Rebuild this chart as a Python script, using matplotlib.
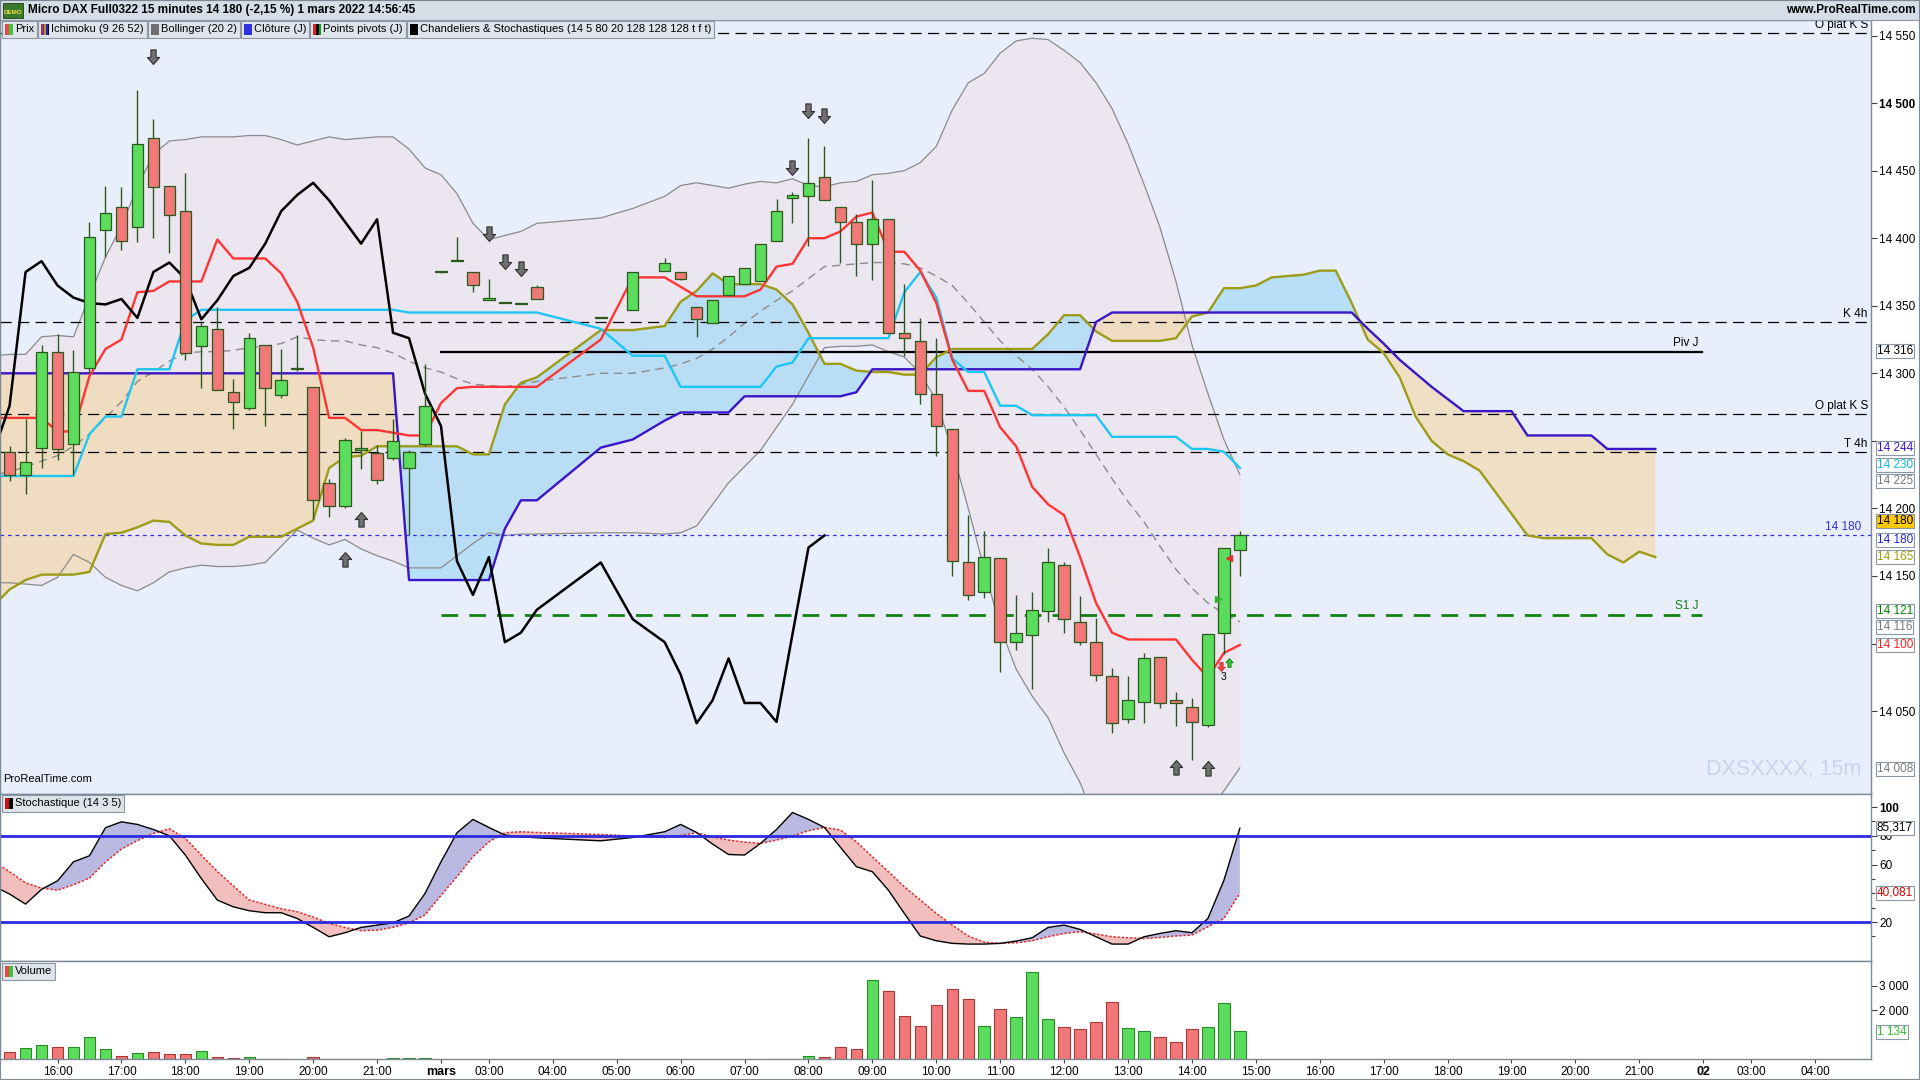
import numpy as np
import matplotlib
matplotlib.use("Agg")
import matplotlib.pyplot as plt
from matplotlib.patches import Rectangle
from matplotlib.path import Path
from matplotlib.markers import MarkerStyle

plt.rcParams['font.family'] = ['Liberation Sans', 'DejaVu Sans']

# 15-minute slots, 0 = 16:00 on 28 Feb. Slots 31-33, 35 and 37 have no trade.
# Slot -4 sits just left of the visible window.
bar_pos = list(range(-4, 31)) + [34, 36] + list(range(38, 75))
future_pos = list(range(75, 101))

opens = [14238,
         14242, 14225, 14245, 14316, 14248, 14304, 14406, 14423, 14408, 14474,
         14439, 14420, 14320, 14333, 14286, 14274, 14321, 14284, 14304, 14290,
         14219, 14202, 14243, 14241, 14237, 14230, 14248, 14375, 14383, 14375,
         14354, 14353, 14351, 14364, 14341, 14347, 14376, 14375, 14349, 14337,
         14358, 14366, 14368, 14398, 14430, 14431, 14445, 14423, 14412, 14396,
         14414, 14330, 14324, 14285, 14259, 14160, 14138, 14163, 14101, 14106,
         14124, 14158, 14116, 14101, 14076, 14044, 14057, 14090, 14058, 14053,
         14040, 14108, 14169]
highs = [14250,
         14246, 14266, 14321, 14329, 14317, 14412, 14439, 14438, 14510, 14488,
         14439, 14448, 14338, 14349, 14296, 14330, 14321, 14318, 14328, 14290,
         14222, 14252, 14257, 14247, 14266, 14243, 14307, 14376, 14401, 14375,
         14370, 14353, 14351, 14365, 14341, 14375, 14385, 14375, 14349, 14354,
         14372, 14378, 14396, 14429, 14434, 14474, 14468, 14423, 14418, 14443,
         14414, 14366, 14341, 14326, 14259, 14195, 14183, 14163, 14136, 14138,
         14171, 14160, 14135, 14119, 14082, 14076, 14093, 14090, 14064, 14060,
         14107, 14171, 14183]
lows = [14228,
        14220, 14211, 14230, 14236, 14225, 14300, 14386, 14391, 14397, 14400,
        14389, 14310, 14289, 14288, 14259, 14273, 14261, 14282, 14302, 14192,
        14194, 14200, 14229, 14218, 14236, 14180, 14246, 14374, 14383, 14360,
        14354, 14352, 14351, 14355, 14341, 14347, 14376, 14369, 14327, 14337,
        14358, 14366, 14368, 14398, 14411, 14394, 14428, 14382, 14372, 14369,
        14330, 14313, 14277, 14239, 14150, 14132, 14134, 14079, 14095, 14066,
        14116, 14108, 14099, 14072, 14034, 14041, 14041, 14052, 14039, 14014,
        14038, 14092, 14150]
closes = [14232,
          14225, 14234, 14316, 14244, 14301, 14401, 14419, 14398, 14470, 14438,
          14417, 14315, 14335, 14288, 14279, 14326, 14289, 14295, 14303, 14206,
          14202, 14251, 14245, 14221, 14250, 14242, 14276, 14375, 14383, 14365,
          14356, 14352, 14351, 14355, 14341, 14375, 14382, 14370, 14340, 14354,
          14372, 14378, 14396, 14420, 14432, 14441, 14428, 14412, 14396, 14414,
          14330, 14326, 14285, 14261, 14161, 14136, 14164, 14101, 14108, 14125,
          14160, 14118, 14101, 14077, 14041, 14058, 14089, 14056, 14056, 14042,
          14107, 14171, 14180]
volumes = [300,
           280, 440, 565, 483, 483, 890, 400, 116, 238, 279,
           197, 197, 320, 88, 48, 75, 20, 20, 0, 75,
           15, 15, 15, 15, 35, 35, 40, 0, 0, 0,
           0, 0, 0, 0, 0, 0, 0, 0, 0, 0,
           0, 0, 0, 20, 20, 130, 75, 485, 405, 3232,
           2770, 1749, 1341, 2198, 2865, 2443, 1341, 2035, 1708, 3545,
           1626, 1327, 1218, 1518, 2320, 1259, 1136, 919, 687, 1218,
           1300, 2280, 1134]

# Ichimoku
tenkan = [14267,
          14267, 14267, 14267, 14257, 14257, 14298, 14318, 14325, 14360, 14361,
          14368, 14368, 14368, 14399, 14385, 14385, 14385, 14374, 14353, 14319,
          14267, 14267, 14258, 14258, 14256, 14254, 14254, 14278, 14289, 14290,
          14290, 14290, 14290, 14290, 14325, 14371, 14371, 14364, 14357, 14357,
          14357, 14357, 14362, 14379, 14381, 14400, 14400, 14405, 14416, 14419,
          14390, 14390, 14376, 14352, 14310, 14287, 14287, 14260, 14246, 14216,
          14203, 14195, 14164, 14130, 14108, 14103, 14103, 14103, 14103, 14088,
          14075, 14093, 14099]
kijun = [14224,
         14224, 14224, 14224, 14224, 14224, 14255, 14268, 14268, 14303, 14303,
         14303, 14339, 14347, 14347, 14347, 14347, 14347, 14347, 14347, 14347,
         14347, 14347, 14347, 14347, 14347, 14345, 14345, 14345, 14345, 14345,
         14345, 14345, 14345, 14345, 14333, 14313, 14313, 14290, 14290, 14290,
         14290, 14290, 14290, 14305, 14308, 14326, 14326, 14326, 14326, 14326,
         14326, 14360, 14375, 14356, 14311, 14301, 14301, 14276, 14276, 14269,
         14269, 14269, 14269, 14269, 14253, 14253, 14253, 14253, 14253, 14244,
         14244, 14242, 14230]
senkou_a = [14128,
            14140, 14147, 14151, 14151, 14151, 14153, 14181, 14182, 14186, 14191,
            14190, 14180, 14174, 14173, 14173, 14179, 14179, 14179, 14185, 14191,
            14230, 14238, 14239, 14246, 14246, 14246, 14246, 14246, 14246, 14240,
            14240, 14277, 14293, 14297, 14332, 14332, 14335, 14353, 14361, 14374,
            14366, 14366, 14366, 14362, 14351, 14330, 14307, 14307, 14302, 14301,
            14301, 14299, 14299, 14312, 14318, 14318, 14318, 14318, 14318, 14318,
            14329, 14343, 14343, 14331, 14324, 14324, 14324, 14324, 14326, 14342,
            14345, 14363, 14363,
            14365, 14371, 14372, 14373, 14376, 14376, 14352, 14325, 14315, 14297,
            14268, 14250, 14240, 14235, 14228, 14212, 14196, 14180, 14178, 14178,
            14178, 14178, 14166, 14160, 14168, 14164]
senkou_b = [14300] * 26 + [14147] * 5 + \
           [14147, 14185, 14206, 14206, 14245, 14251, 14265, 14271, 14271, 14271,
            14271, 14283, 14283, 14283, 14283, 14283, 14283, 14283, 14286, 14303,
            14303, 14303, 14303, 14303, 14303, 14303, 14303, 14303, 14303, 14303,
            14303, 14303, 14303, 14338, 14345, 14345, 14345, 14345, 14345, 14345,
            14345, 14345, 14345,
            14345, 14345, 14345, 14345, 14345, 14345, 14345, 14333, 14322, 14310,
            14300, 14290, 14281, 14272, 14272, 14272, 14272, 14254, 14254, 14254,
            14254, 14254, 14244, 14244, 14244, 14244]
# lagging line (drawn on the first 48 slots)
chikou = [14242,
          14276, 14375, 14383, 14365, 14356, 14352, 14351, 14355, 14341, 14375,
          14382, 14370, 14340, 14354, 14372, 14378, 14396, 14420, 14432, 14441,
          14428, 14412, 14396, 14414, 14330, 14326, 14285, 14261, 14161, 14136,
          14164, 14101, 14108, 14125, 14160, 14118, 14101, 14077, 14041, 14058,
          14089, 14056, 14056, 14042, 14107, 14171, 14180]

# Bollinger (20 2)
bb_upper = [14313,
            14314, 14314, 14327, 14328, 14327, 14357, 14386, 14409, 14438, 14462,
            14472, 14473, 14475, 14475, 14475, 14476, 14476, 14473, 14469, 14472,
            14475, 14473, 14474, 14475, 14475, 14466, 14452, 14447, 14433, 14411,
            14399, 14402, 14405, 14411, 14415, 14422, 14431, 14439, 14441, 14439,
            14437, 14440, 14442, 14441, 14444, 14439, 14438, 14441, 14442, 14447,
            14448, 14450, 14456, 14468, 14495, 14515, 14522, 14537, 14546, 14548,
            14547, 14539, 14530, 14515, 14496, 14470, 14440, 14408, 14368, 14321,
            14285, 14251, 14225]
bb_mid = [14225,
          14227, 14231, 14235, 14239, 14246, 14255, 14267, 14279, 14294, 14301,
          14309, 14315, 14316, 14316, 14317, 14319, 14320, 14322, 14327, 14325,
          14324, 14324, 14321, 14319, 14315, 14309, 14304, 14301, 14296, 14292,
          14291, 14290, 14292, 14294, 14300, 14300, 14304, 14307, 14311, 14318,
          14327, 14337, 14346, 14354, 14361, 14370, 14379, 14380, 14381, 14382,
          14382, 14381, 14378, 14372, 14365, 14352, 14338, 14324, 14313, 14303,
          14290, 14275, 14258, 14240, 14222, 14205, 14190, 14172, 14155, 14141,
          14130, 14122, 14116]
bb_lower = [14145,
            14145, 14144, 14143, 14149, 14166, 14160, 14149, 14143, 14139, 14145,
            14153, 14156, 14158, 14157, 14157, 14158, 14160, 14172, 14184, 14178,
            14173, 14177, 14170, 14165, 14161, 14156, 14156, 14156, 14165, 14174,
            14182, 14180, 14181, 14181, 14182, 14182, 14181, 14182, 14187, 14203,
            14219, 14231, 14243, 14260, 14277, 14298, 14319, 14320, 14320, 14321,
            14316, 14312, 14300, 14280, 14243, 14200, 14155, 14112, 14081, 14061,
            14045, 14019, 13997, 13968, 13950, 13940, 13940, 13936, 13942, 13960,
            13976, 13991, 14008]

# Stochastique (14 3 5)
stoch_k = [45.0,
           39.5, 32.5, 42.7, 48.7, 61.9, 66.1, 85.6, 89.7, 87.9, 84.4,
           80.0, 66.6, 50.3, 35.3, 30.6, 27.9, 26.5, 26.5, 22.5, 16.3,
           9.8, 12.6, 16.3, 17.9, 19.5, 24.2, 39.9, 61.9, 82.1, 91.4,
           85.8, 80.5, 79.3, 78.6, 76.5, 78.8, 82.8, 87.9, 82.3, 74.2,
           67.0, 66.6, 74.7, 84.4, 96.2, 91.4, 85.8, 72.0, 58.5, 55.0,
           42.2, 26.0, 10.3, 7.0, 5.2, 4.7, 4.7, 5.2, 6.8, 9.1,
           16.3, 17.9, 14.9, 9.8, 4.7, 4.7, 9.8, 12.1, 14.0, 12.6,
           22.5, 49.0, 85.3]
stoch_d = [62.0,
           55.0, 47.3, 43.6, 42.2, 45.9, 50.6, 61.7, 70.7, 76.7, 81.6,
           84.9, 78.2, 66.6, 55.2, 45.2, 35.3, 32.3, 29.3, 27.2, 23.5,
           19.1, 16.3, 14.0, 14.4, 16.3, 19.5, 24.9, 38.5, 51.5, 65.4,
           75.8, 82.1, 82.8, 82.3, 80.9, 79.8, 78.8, 80.2, 82.1, 79.3,
           77.0, 75.6, 74.7, 77.0, 79.8, 83.5, 85.8, 84.0, 75.8, 65.4,
           55.0, 44.6, 35.3, 26.0, 17.9, 10.3, 6.1, 5.2, 5.6, 7.0,
           9.8, 12.1, 13.3, 11.7, 9.8, 9.1, 8.6, 9.3, 10.3, 11.0,
           16.7, 22.5, 40.1]

# horizontal levels
level_names = ['O plat K S', 'K 4h', 'O plat K S', 'T 4h']
level_values = [14552, 14338, 14270, 14242]
pivot_value = 14316
s1_value = 14121
last_price = 14180

# signal arrows (slot, price at the tip)
arrows_down = [(6, 14529), (27, 14398), (28, 14377), (29, 14372), (46, 14447), (47, 14489), (48, 14485)]
arrows_up = [(18, 14168), (19, 14197), (70, 14014), (72, 14013)]

time_ticks = [0, 4, 8, 12, 16, 20, 24, 27, 31, 35, 39, 43, 47, 51, 55, 59, 63, 67, 71,
              75, 79, 83, 87, 91, 95, 99, 103, 106, 110]
time_labels = ['16:00', '17:00', '18:00', '19:00', '20:00', '21:00', 'mars', '03:00', '04:00',
               '05:00', '06:00', '07:00', '08:00', '09:00', '10:00', '11:00', '12:00', '13:00',
               '14:00', '15:00', '16:00', '17:00', '18:00', '19:00', '20:00', '21:00', '02',
               '03:00', '04:00']

# ---------------------------------------------------------------- layout
W, H = 1920, 1080
fig = plt.figure(figsize=(W / 100, H / 100), dpi=100)
fig.patch.set_facecolor('white')

def fx(px):
    return px / W

def fy(py):
    return 1 - py / H

AX_R = 1871
ax_p = fig.add_axes([0, fy(793.5), AX_R / W, (793.5 - 19.6) / H])
ax_s = fig.add_axes([0, fy(961.2), AX_R / W, (961.2 - 793.5) / H])
ax_v = fig.add_axes([0, fy(1059.2), AX_R / W, (1059.2 - 961.2) / H])

XMIN, XMAX = -3.6, 113.5
for ax in (ax_p, ax_s, ax_v):
    ax.set_xlim(XMIN, XMAX)
    for sp in ax.spines.values():
        sp.set_color('#7c8a96')
        sp.set_linewidth(1.0)
    ax.yaxis.tick_right()
    ax.tick_params(axis='y', which='both', length=4, width=0.8, color='#404040',
                   pad=2, labelsize=8.5)
    ax.tick_params(axis='y', which='minor', length=3)
    ax.tick_params(axis='x', bottom=False, labelbottom=False)

ax_p.set_facecolor('#e8eefc')
ax_p.set_ylim(13989, 14561.8)

x = np.array(bar_pos, dtype=float)
xs = np.array(bar_pos + future_pos, dtype=float)
o, h, l, c = map(np.array, (opens, highs, lows, closes))
sa = np.array(senkou_a, dtype=float)
sb = np.array(senkou_b, dtype=float)


def fmt(v):
    return f"{int(v):,}".replace(",", " ")


# Bollinger band area
ax_p.fill_between(x, bb_lower, bb_upper, color='#ece6f0', lw=0, zorder=1)
# Ichimoku cloud
ax_p.fill_between(xs, sa, sb, where=sa >= sb, interpolate=True, color='#9ad8f7',
                  alpha=0.62, lw=0, zorder=2)
ax_p.fill_between(xs, sa, sb, where=sa < sb, interpolate=True, color='#f3d9a8',
                  alpha=0.65, lw=0, zorder=2)

ax_p.plot(x, bb_upper, color='#8a8a8a', lw=0.9, zorder=3)
ax_p.plot(x, bb_lower, color='#8a8a8a', lw=0.9, zorder=3)
ax_p.plot(x, bb_mid, color='#8c8c8c', lw=1.0, dashes=(6, 4), zorder=3)

# levels
for name, val in zip(level_names, level_values):
    ax_p.axhline(val, color='black', lw=0.9, dashes=(9, 5), zorder=3)
    ax_p.text(113.3, val + 1.5, name, ha='right', va='bottom', fontsize=8.5, zorder=9)
ax_p.plot([24, 102.9], [pivot_value] * 2, color='black', lw=1.6, zorder=3)
ax_p.text(102.7, pivot_value + 2, 'Piv J', ha='right', va='bottom', fontsize=8.5, zorder=9)
ax_p.plot([24, 102.9], [s1_value] * 2, color='#128212', lw=2.0, dashes=(6, 4), zorder=3)
ax_p.text(102.7, s1_value + 2, 'S1 J', ha='right', va='bottom', fontsize=8.5,
          color='#128212', zorder=9)
ax_p.axhline(last_price, color='#3030e8', lw=0.9, dashes=(3, 3), zorder=3)
ax_p.text(112.9, last_price + 1.5, fmt(last_price), ha='right', va='bottom', fontsize=8.5,
          color='#3030e8', zorder=9)

# Ichimoku lines
ax_p.plot(xs, sa, color='#9c9c16', lw=1.7, zorder=4)
ax_p.plot(xs, sb, color='#3a16c8', lw=1.7, zorder=4)
ax_p.plot(x, kijun, color='#1ec6f4', lw=1.7, zorder=4)
ax_p.plot(x, tenkan, color='#ff3434', lw=1.7, zorder=4)
ax_p.plot(x[:len(chikou)], chikou, color='black', lw=1.8, zorder=4)

# candles
up = c >= o
edge = '#2c5a1c'
ax_p.vlines(x, l, h, color=edge, lw=1.0, zorder=6)
body_lo = np.minimum(o, c)
body_h = np.maximum(np.abs(c - o), 0.8)
ax_p.bar(x, body_h, bottom=body_lo, width=0.72, color=np.where(up, '#5cdc5c', '#f07878'),
         edgecolor=edge, lw=0.9, zorder=7)

# signal arrows
dn_path = Path([(0, 0), (-0.42, 0.48), (-0.18, 0.48), (-0.18, 1.0), (0.18, 1.0),
                (0.18, 0.48), (0.42, 0.48), (0, 0)],
               [Path.MOVETO] + [Path.LINETO] * 6 + [Path.CLOSEPOLY])
up_path = Path(dn_path.vertices * [1, -1], dn_path.codes)
ad = np.array(arrows_down)
au = np.array(arrows_up)
ax_p.plot(ad[:, 0], ad[:, 1], ls='none', marker=MarkerStyle(dn_path), markersize=21,
          mfc='#707070', mec='#303030', mew=0.8, zorder=8)
ax_p.plot(au[:, 0], au[:, 1], ls='none', marker=MarkerStyle(up_path), markersize=21,
          mfc='#707070', mec='#303030', mew=0.8, zorder=8)
ax_p.plot([72.8], [14080], ls='none', marker=MarkerStyle(dn_path), markersize=13,
          mfc='#e84848', mec='#c02020', mew=0.5, zorder=8)
ax_p.plot([73.3], [14089], ls='none', marker=MarkerStyle(up_path), markersize=13,
          mfc='#30c030', mec='#108010', mew=0.5, zorder=8)
ax_p.text(73.0, 14079, '3', ha='center', va='top', fontsize=7.5, zorder=9)
ax_p.plot([72.6], [14133], ls='none', marker='>', markersize=5, color='#30b030', zorder=9)
ax_p.plot([73.35], [14163], ls='none', marker='<', markersize=5, color='#e03030', zorder=9)

ax_p.text(0.0015, 0.012, 'ProRealTime.com', transform=ax_p.transAxes, fontsize=8,
          ha='left', va='bottom', zorder=9)
ax_p.text(0.9947, 0.031, 'DXSXXXX, 15m', transform=ax_p.transAxes, fontsize=15.5,
          color='#c9d3ec', ha='right', va='center', zorder=2)

price_ticks = list(range(14050, 14551, 50))
ax_p.set_yticks(price_ticks)
# 14 250 and 14 100 sit under the value boxes
ax_p.set_yticklabels(['' if v in (14250, 14100) else fmt(v) for v in price_ticks])
for t, v in zip(ax_p.get_yticklabels(), price_ticks):
    if v == 14500:
        t.set_fontweight('bold')


def value_box(ax, y, txt, color, face='white'):
    ax.text(1.0032, y, txt, transform=ax.get_yaxis_transform(), ha='left', va='center',
            fontsize=8.5, color=color, zorder=20, clip_on=False,
            bbox=dict(boxstyle='square,pad=0.08', fc=face, ec='#8a98a6', lw=0.8))


value_box(ax_p, 14316.3, fmt(pivot_value), 'black')
value_box(ax_p, 14244.7, fmt(sb[-1]), '#3a16c8')
value_box(ax_p, 14232.0, fmt(kijun[-1]), '#10b4e6')
value_box(ax_p, 14220.3, fmt(bb_upper[-1]), '#7a7a7a')
value_box(ax_p, 14190.4, fmt(closes[-1]), 'black', '#ffc800')
value_box(ax_p, 14176.8, fmt(last_price), '#2020e0')
value_box(ax_p, 14164.1, fmt(sa[-1] + 1), '#a0a000')
value_box(ax_p, 14124.3, fmt(s1_value), '#008000')
value_box(ax_p, 14112.5, fmt(bb_mid[-1]), '#7a7a7a')
value_box(ax_p, 14098.9, '14 100', '#ff2020')
value_box(ax_p, 14007.4, fmt(bb_lower[-1]), '#7a7a7a')

# ---------------------------------------------------------------- stochastic
ks = np.array(stoch_k)
ds = np.array(stoch_d)
ax_s.set_ylim(-7.2, 109.4)
ax_s.fill_between(x, ks, ds, where=ks >= ds, interpolate=True, color='#b9b9e1', lw=0, zorder=1)
ax_s.fill_between(x, ks, ds, where=ks < ds, interpolate=True, color='#f2bebe', lw=0, zorder=1)
ax_s.axhline(80, color='#2a2ae0', lw=2.0, zorder=3)
ax_s.axhline(20, color='#2a2ae0', lw=2.0, zorder=3)
ax_s.plot(x, ds, color='#e02828', lw=1.1, ls=(0, (1.5, 1.2)), zorder=2)
ax_s.plot(x, ks, color='black', lw=1.0, zorder=2)
ax_s.set_yticks([20, 60, 80, 100])
ax_s.set_yticklabels(['20', '60', '80', '100'])
ax_s.get_yticklabels()[-1].set_fontweight('bold')
ax_s.set_yticks([10, 30, 40, 50, 70, 90], minor=True)
value_box(ax_s, 85.5, '85,317', 'black')
value_box(ax_s, 40.4, '40,081', '#d00000')

# ---------------------------------------------------------------- volume
vol = np.array(volumes)
ax_v.set_ylim(0, 4000)
m = vol > 0
ax_v.bar(x[m], vol[m], width=0.72, color=np.where(up[m], '#5cdc5c', '#f07878'),
         edgecolor=np.where(up[m], '#2a8a2a', '#a83838'), lw=0.8, zorder=2)
ax_v.set_yticks([2000, 3000])
ax_v.set_yticklabels([fmt(2000), fmt(3000)])
value_box(ax_v, 1100, fmt(volumes[-1]), '#30c030')

ax_v.set_xticks(time_ticks)
ax_v.set_xticklabels(time_labels)
ax_v.tick_params(axis='x', bottom=True, labelbottom=True, length=3, width=0.8,
                 color='#404040', pad=2, labelsize=8.5)
for t in ax_v.get_xticklabels():
    if t.get_text() in ('mars', '02'):
        t.set_fontweight('bold')
        t.set_fontsize(9)

# ---------------------------------------------------------------- header
fig.add_artist(Rectangle((0, fy(19.6)), 1, 19.6 / H, transform=fig.transFigure,
                         fc='#d5dde7', ec='#8a98a6', lw=0.8, zorder=10))
fig.add_artist(Rectangle((fx(3), fy(18)), 20 / W, 15 / H, transform=fig.transFigure,
                         fc='#3b7a2c', ec='#1d3d14', lw=0.6, zorder=11))
fig.text(fx(13), fy(13), 'DEMO', fontsize=4.5, color='#f0e040', fontweight='bold',
         ha='center', va='center', zorder=12)
fig.text(fx(28), fy(10), 'Micro DAX Full0322 15 minutes 14 180 (-2,15 %) 1 mars 2022 14:56:45',
         fontsize=8.5, fontweight='bold', ha='left', va='center', zorder=12)
fig.text(fx(1916), fy(10), 'www.ProRealTime.com', fontsize=8.5, fontweight='bold',
         ha='right', va='center', zorder=12)

renderer = fig.canvas.get_renderer()


def label_box(x0, y_top, text, icon_colors, fs=8):
    bh = 17
    t = fig.text(fx(x0 + 13), fy(y_top + bh / 2), text, fontsize=fs, ha='left', va='center',
                 zorder=13)
    w = t.get_window_extent(renderer).width + 16
    fig.add_artist(Rectangle((fx(x0), fy(y_top + bh)), w / W, bh / H, transform=fig.transFigure,
                             fc='#dfe4ea', ec='#8c98a4', lw=0.8, zorder=12))
    iw = 8 / len(icon_colors)
    for i, col in enumerate(icon_colors):
        fig.add_artist(Rectangle((fx(x0 + 3 + i * iw), fy(y_top + bh - 3)), iw / W, (bh - 6) / H,
                                 transform=fig.transFigure, fc=col, ec='none', zorder=13))
    return x0 + w + 1


legend_items = [('Prix', ['#e84848', '#40c040']),
                ('Ichimoku (9 26 52)', ['#e02020', '#2040e0', '#a0a010', '#3a16c8', 'black']),
                ('Bollinger (20 2)', ['#707070']),
                ('Clôture (J)', ['#3030e0']),
                ('Points pivots (J)', ['#e02020', 'black', '#10a010']),
                ('Chandeliers & Stochastiques (14 5 80 20 128 128 128 t f t)', ['black'])]
px0 = 2
for name, cols in legend_items:
    px0 = label_box(px0, 21, name, cols)

label_box(2, 795, 'Stochastique (14 3 5)', ['#d01010', 'black'])
label_box(2, 963, 'Volume', ['#e84848', '#40c040'])

fig.add_artist(Rectangle((0, 0), 1, 1, transform=fig.transFigure, fc='none',
                         ec='#7c8a96', lw=1.5, zorder=14))

fig.savefig('out.png', dpi=100, facecolor='white')
